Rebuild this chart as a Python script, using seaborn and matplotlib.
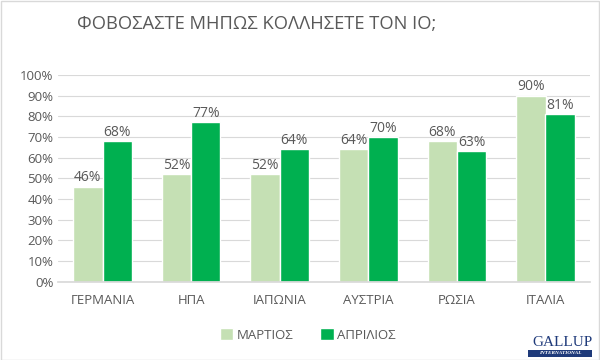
import matplotlib
matplotlib.use("Agg")
import matplotlib.pyplot as plt
import seaborn as sns
import pandas as pd
from matplotlib.patches import Rectangle
from matplotlib.ticker import PercentFormatter

countries = ['ΓΕΡΜΑΝΙΑ', 'ΗΠΑ', 'ΙΑΠΩΝΙΑ', 'ΑΥΣΤΡΙΑ', 'ΡΩΣΙΑ', 'ΙΤΑΛΙΑ']
march = [46, 52, 52, 64, 68, 90]
april = [68, 77, 64, 70, 63, 81]
series_names = ['ΜΑΡΤΙΟΣ', 'ΑΠΡΙΛΙΟΣ']
colors = ['#C5E0B4', '#00B050']

df = pd.DataFrame({
    'country': countries * 2,
    'month': [series_names[0]] * len(countries) + [series_names[1]] * len(countries),
    'value': march + april,
})

sns.set_theme(style='white')
plt.rcParams['font.family'] = ['Open Sans', 'DejaVu Sans']
grey = '#595959'

fig = plt.figure(figsize=(6, 3.6), dpi=100)
ax = fig.add_axes([0.097, 0.217, 0.886, 0.575])

sns.barplot(data=df, x='country', y='value', hue='month', palette=colors,
            width=0.66, saturation=1, ax=ax, legend=True)

for cont in ax.containers:
    ax.bar_label(cont, labels=[f'{int(v)}%' for v in cont.datavalues],
                 padding=1, fontsize=10, color=grey)

ax.set_ylim(0, 100)
ax.set_yticks(range(0, 101, 10))
ax.yaxis.set_major_formatter(PercentFormatter(decimals=0))
ax.set_xlim(-0.5, 5.5)
ax.grid(axis='y', color='#D9D9D9', linewidth=0.8)
ax.set_axisbelow(True)
for s in ['top', 'right', 'left']:
    ax.spines[s].set_visible(False)
ax.spines['bottom'].set_color('#D9D9D9')
ax.tick_params(axis='both', labelsize=9.5, colors=grey, length=0)
ax.tick_params(axis='x', pad=9)
ax.set_xlabel('')
ax.set_ylabel('')

ax.legend(loc='center', bbox_to_anchor=(0.47, -0.257), ncol=2, frameon=False,
          fontsize=9.5, labelcolor=grey, handlelength=1.0, handleheight=1.0,
          handletextpad=0.3, columnspacing=2.0)

fig.text(0.428, 0.933, 'ΦΟΒΟΣΑΣΤΕ ΜΗΠΩΣ ΚΟΛΛΗΣΕΤΕ ΤΟΝ ΙΟ;', ha='center', va='center',
         fontsize=13.2, color=grey)

# Gallup International logo
navy = '#1F3A7A'
fig.text(0.987, 0.031, 'GALLUP', ha='right', va='bottom', fontsize=11,
         family='Liberation Serif', color=navy)
fig.patches.append(Rectangle((0.88, 0.008), 0.107, 0.021, transform=fig.transFigure,
                             facecolor=navy, edgecolor='none'))
fig.text(0.933, 0.0185, 'INTERNATIONAL', ha='center', va='center', fontsize=3.8,
         family='Liberation Serif', fontweight='bold', fontstyle='italic', color='white')

fig.patches.append(Rectangle((0.001, 0.001), 0.997, 0.996, transform=fig.transFigure,
                             facecolor='none', edgecolor='#D9D9D9', linewidth=1))

fig.savefig('out.png', dpi=100)
